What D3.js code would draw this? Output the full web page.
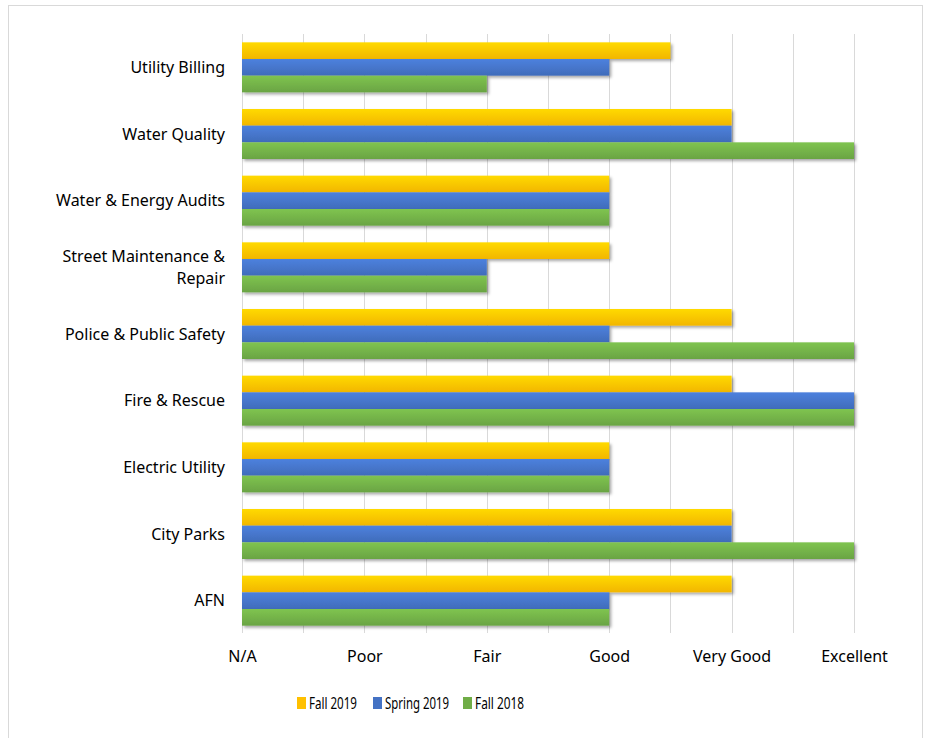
<!DOCTYPE html>
<html><head><meta charset="utf-8">
<script src="https://cdn.jsdelivr.net/npm/d3@7"></script>
<style>body{margin:0;background:#fff;} text{font-family:"Noto Sans",sans-serif;fill:#000;}</style>
</head><body>
<svg id="c" width="927" height="738"></svg>
<script>
const categories = ["Utility Billing","Water Quality","Water & Energy Audits","Street Maintenance & Repair","Police & Public Safety","Fire & Rescue","Electric Utility","City Parks","AFN"];
const categoryLines = [["Utility Billing"],["Water Quality"],["Water & Energy Audits"],["Street Maintenance &","Repair"],["Police & Public Safety"],["Fire & Rescue"],["Electric Utility"],["City Parks"],["AFN"]];
const seriesNames = ["Fall 2019","Spring 2019","Fall 2018"];
const fall2019 = [3.5,4,3,3,4,4,3,4,4];
const spring2019 = [3,4,3,2,3,5,3,4,3];
const fall2018 = [2,5,3,2,5,5,3,5,3];
const tickLabels = ["N/A","Poor","Fair","Good","Very Good","Excellent"];
const colors = ["#FFC000","#4472C4","#70AD47"];
const series = [fall2019, spring2019, fall2018];

const svg = d3.select("#c");
const defs = svg.append("defs");
const f = defs.append("filter").attr("id","sh").attr("x","-5%").attr("y","-30%").attr("width","115%").attr("height","180%");
f.append("feDropShadow").attr("dx",2).attr("dy",2).attr("stdDeviation",1.5).attr("flood-color","#000").attr("flood-opacity",0.35);
colors.forEach((c,i)=>{
  const g = defs.append("linearGradient").attr("id","g"+i).attr("x1",0).attr("y1",0).attr("x2",0).attr("y2",1);
  g.append("stop").attr("offset","0%").attr("stop-color",d3.color(c).brighter(0.35));
  g.append("stop").attr("offset","100%").attr("stop-color",d3.color(c).darker(0.15));
});

svg.append("rect").attr("x",8.5).attr("y",5.5).attr("width",914).attr("height",740).attr("fill","#fff").attr("stroke","#d9d9d9");

const x = d3.scaleLinear().domain([0,5]).range([242,854]);
const y = d3.scaleBand().domain(categories).range([34,634]).paddingInner(0.25).paddingOuter(0.125);
const ys = d3.scaleBand().domain(seriesNames).range([0,y.bandwidth()]);

// gridlines
svg.append("g").selectAll("line").data(d3.range(0,5.01,0.5)).join("line")
  .attr("x1",d=>Math.round(x(d))+0.5).attr("x2",d=>Math.round(x(d))+0.5)
  .attr("y1",34).attr("y2",633).attr("stroke","#d9d9d9").attr("stroke-width",1);

// bars
series.forEach((vals,si)=>{
  svg.append("g").attr("filter","url(#sh)").selectAll("rect").data(vals).join("rect")
    .attr("x",x(0)).attr("y",(d,i)=>y(categories[i])+ys(seriesNames[si]))
    .attr("width",d=>x(d)-x(0)).attr("height",ys.bandwidth())
    .attr("fill","url(#g"+si+")");
});

// category labels
const cl = svg.append("g").selectAll("text").data(categories).join("text")
  .attr("text-anchor","end").attr("font-size",16)
  .attr("x",225);
cl.each(function(d,i){
  const lines = categoryLines[i];
  const cy = y(d)+y.bandwidth()/2;
  const t = d3.select(this);
  lines.forEach((l,li)=>{
    t.append("tspan").attr("x",225).attr("y",cy + (li-(lines.length-1)/2)*22.5 + 5.5).text(l);
  });
});

// x axis labels
const xa = d3.axisBottom(x).tickValues([0,1,2,3,4,5]).tickFormat(i=>tickLabels[i]).tickSize(0).tickPadding(0);
const ga = svg.append("g").attr("transform","translate(0,651)").call(xa);
ga.select(".domain").remove();
ga.selectAll("text").attr("font-size",16).attr("font-family","Noto Sans").attr("fill","#000").attr("dy","0.71em");

// legend
const lx = [297,373,463];
const lw = [48,64,49];
const lg = svg.append("g");
seriesNames.forEach((s,i)=>{
  lg.append("rect").attr("x",lx[i]).attr("y",697).attr("width",9).attr("height",12).attr("fill",colors[i]);
  lg.append("text").attr("x",lx[i]+12).attr("y",709).attr("font-size",16)
    .attr("textLength",lw[i]).attr("lengthAdjust","spacingAndGlyphs").text(s);
});
</script>
</body></html>
